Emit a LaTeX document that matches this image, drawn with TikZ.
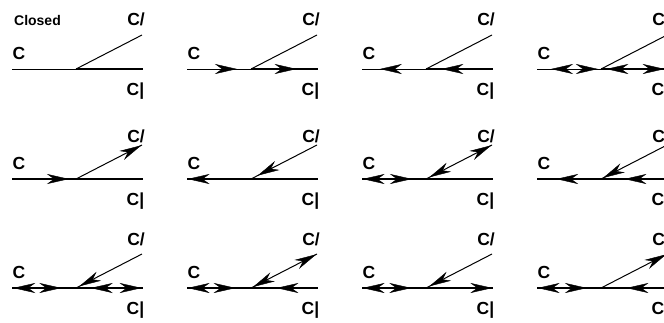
\documentclass[tikz,border=0pt]{standalone}
\usepackage{fontspec}
\setmainfont{Liberation Sans}
\usetikzlibrary{arrows.meta,decorations.markings}

\tikzset{
  hd/.tip={Stealth[length=22pt,width=10pt,inset=7pt]},
  fw/.style={postaction={decorate,decoration={markings,mark=at position #1 with {\arrow{hd}}}}},
  bw/.style={postaction={decorate,decoration={markings,mark=at position #1 with {\arrowreversed{hd}}}}},
  wire/.style={line width=1pt},
  lbl/.style={inner sep=0pt,font=\bfseries\fontsize{17.5}{18}\selectfont}
}

\begin{document}
\begin{tikzpicture}[x=1pt,y=-1pt]
  \clip (0,0) rectangle (664,322);
  \node[inner sep=0pt,font=\bfseries\fontsize{14}{15}\selectfont] (title) at (37.5,20.5) {Closed};

  % one junction per panel: C from the left, C/ up the slope, C| straight on
  \foreach \nm/\x/\y/\dy/\wc/\wr in {11/76/69/-50/1/2, 12/251/69/-50/1/2, 13/426/69/-50/1/2, 14/601/69/-50/1/2,
      21/76/179/-43/1.3/1.3, 22/251/179/-43/1.3/1.3, 23/426/179/-43/1.3/1.3, 24/601/179/-43/1.3/1.3,
      31/76/288/-49/1.3/1.3, 32/251/288/-49/1.3/1.3, 33/426/288/-49/1.3/1.3, 34/601/288/-49/1.3/1.3}{
    \coordinate (J\nm) at (\x,\y);
    \coordinate (L\nm) at (\x-64,\y);
    \coordinate (R\nm) at (\x+67,\y);
    \coordinate (D\nm) at (\x+66,\y-34);
    \node[lbl] (c\nm) at (\x-57,\y-16) {C};
    \node[lbl] (cs\nm) at (\x+60,\y+\dy) {C/};
    \node[lbl] (cb\nm) at (\x+59.5,\y+22) {C|};
    \draw[line width=\wc pt] (L\nm) -- (J\nm);
    \draw[wire] (J\nm) -- (D\nm);
    \draw[line width=\wr pt] (J\nm) -- (R\nm);
  }

  % arrow heads, row 1
  \path[fw=0.78] (L12) -- (J12);
  \path[fw=0.68] (J12) -- (R12);
  \path[bw=0.28] (L13) -- (J13);
  \path[bw=0.23] (J13) -- (R13);
  \path[bw=0.22,fw=0.95] (L14) -- (J14);
  \path[bw=0.08,fw=0.95] (J14) -- (R14);
  % row 2
  \path[fw=0.89] (L21) -- (J21);
  \path[fw=0.99] (J21) -- (D21);
  \path[bw=0.01] (L22) -- (J22);
  \path[bw=0.1] (J22) -- (D22);
  \path[bw=0.01,fw=0.78] (L23) -- (J23);
  \path[bw=0.05,fw=0.99] (J23) -- (D23);
  \path[bw=0.3] (L24) -- (J24);
  \path[bw=0.03] (J24) -- (D24);
  \path[bw=0.35] (J24) -- (R24);
  % row 3
  \path[bw=0.02,fw=0.77] (L31) -- (J31);
  \path[bw=0.05] (J31) -- (D31);
  \path[bw=0.22,fw=0.98] (J31) -- (R31);
  \path[bw=0.01,fw=0.76] (L32) -- (J32);
  \path[bw=0.03,fw=0.99] (J32) -- (D32);
  \path[bw=0.38] (J32) -- (R32);
  \path[bw=0.01,fw=0.77] (L33) -- (J33);
  \path[bw=0.05] (J33) -- (D33);
  \path[fw=0.99] (J33) -- (R33);
  \path[bw=0.01,fw=0.78] (L34) -- (J34);
  \path[fw=0.99] (J34) -- (D34);
  \path[bw=0.38] (J34) -- (R34);
\end{tikzpicture}
\end{document}
